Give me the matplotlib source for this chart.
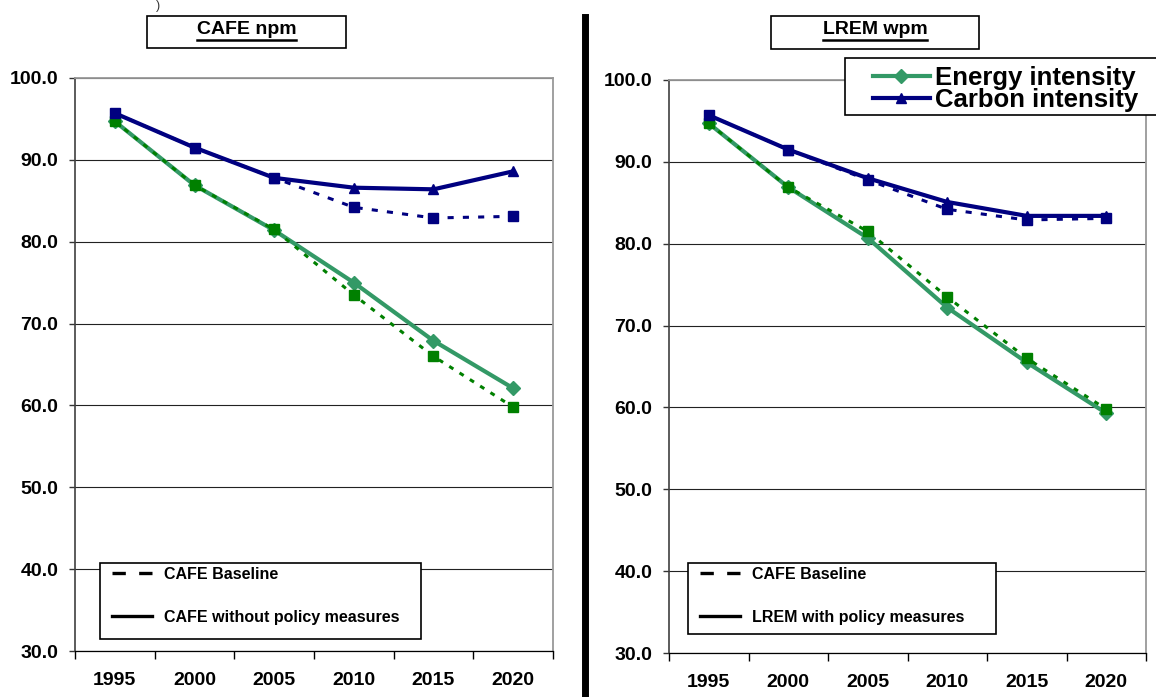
import matplotlib.pyplot as plt
from matplotlib import font_manager
from matplotlib.lines import Line2D
from matplotlib.patches import Rectangle

years = ['1995', '2000', '2005', '2010', '2015', '2020']

# CAFE baseline (same in both panels)
base_energy = [94.7, 86.9, 81.5, 73.5, 66.0, 59.8]
base_carbon = [95.7, 91.5, 87.8, 84.2, 82.9, 83.1]

# CAFE without policy measures
npm_energy = [94.7, 86.9, 81.4, 75.0, 67.9, 62.1]
npm_carbon = [95.7, 91.5, 87.8, 86.6, 86.4, 88.6]

# LREM with policy measures
wpm_energy = [94.7, 86.9, 80.7, 72.2, 65.5, 59.3]
wpm_carbon = [95.7, 91.5, 88.0, 85.1, 83.4, 83.4]

yticks = [30, 40, 50, 60, 70, 80, 90, 100]

GREEN = '#339966'
DKGREEN = '#008000'
NAVY = '#000080'

plt.rcParams['font.family'] = ['Liberation Sans', 'DejaVu Sans']
plt.rcParams['font.weight'] = 'bold'
names = {f.name for f in font_manager.fontManager.ttflist}
narrow = 'Liberation Sans Narrow' in names
tick_family = ['Liberation Sans Narrow'] if narrow else ['Liberation Sans']
tick_size = 16.5 if narrow else 14

W, H = 1156, 697
fig = plt.figure(figsize=(W / 100, H / 100), dpi=100)


def px(x, y):
    return x / W, 1 - y / H


def boxed(x0, y0, x1, y1):
    fig.add_artist(Rectangle(px(x0, y1), (x1 - x0) / W, (y1 - y0) / H,
                             transform=fig.transFigure, fc='white',
                             ec='black', lw=1.2))


def panel(rect, energy, carbon, title, title_box, leg_label, leg_box):
    ax = fig.add_axes(rect)
    x = list(range(len(years)))

    l_e, = ax.plot(x, energy, color=GREEN, lw=3, marker='D', ms=7.5, zorder=3,
                   label='Energy intensity')
    l_c, = ax.plot(x, carbon, color=NAVY, lw=3, marker='^', ms=7.5, zorder=3,
                   label='Carbon intensity')
    ax.plot(x, base_energy, color=DKGREEN, lw=2.2, ls=(0, (1.6, 2.4)),
            marker='s', ms=6.5, zorder=4)
    ax.plot(x, base_carbon, color=NAVY, lw=2.2, ls=(0, (2, 3)),
            marker='s', ms=6.5, zorder=4)

    ax.set_xlim(-0.5, len(years) - 0.5)
    ax.set_ylim(30, 100)
    ax.set_yticks(yticks)
    ax.set_yticklabels([f'{v:.1f}' for v in yticks], family=tick_family,
                       fontsize=tick_size, fontweight='bold')
    ax.tick_params(axis='y', direction='out', length=4, width=1, pad=8,
                   color='#333333')

    # tick marks between categories, labels at the centres
    ax.set_xticks([i - 0.5 for i in range(len(years) + 1)])
    ax.set_xticklabels([])
    ax.set_xticks(x, minor=True)
    ax.set_xticklabels(years, minor=True, family=tick_family,
                       fontsize=tick_size, fontweight='bold')
    ax.tick_params(axis='x', which='major', direction='out', length=6,
                   width=1, color='black')
    ax.tick_params(axis='x', which='minor', length=0, pad=15)

    ax.grid(axis='y', color='#222222', lw=0.8, zorder=0)
    ax.set_axisbelow(True)
    ax.spines['left'].set_color('#404040')
    ax.spines['left'].set_linewidth(1.2)
    ax.spines['bottom'].set_color('black')
    ax.spines['bottom'].set_linewidth(0.9)
    ax.spines['top'].set_color('#999999')
    ax.spines['top'].set_linewidth(1.3)
    ax.spines['right'].set_color('#999999')
    ax.spines['right'].set_linewidth(1.3)

    # scenario legend (line style only)
    bx0, by0, bx1, by1 = leg_box
    boxed(bx0, by0, bx1, by1)
    handles = [Line2D([], [], color='black', lw=2.4, ls=(0, (4, 4))),
               Line2D([], [], color='black', lw=2.4)]
    fig.legend(handles, ['CAFE Baseline', leg_label], loc='upper left',
               bbox_to_anchor=px(bx0 + 12, by0 + 4),
               prop={'size': 11.5, 'weight': 'bold'}, frameon=False,
               borderpad=0, labelspacing=1.75, handlelength=2.5,
               handletextpad=0.75, borderaxespad=0)

    # boxed, underlined panel title
    x0, y0, x1, y1 = title_box
    boxed(x0, y0, x1, y1)
    cx, cy = px((x0 + x1) / 2, 30)
    t = fig.text(cx, cy, title, ha='center', va='center', fontsize=14,
                 fontweight='bold')
    return ax, t, (l_e, l_c)


ax1, t1, _ = panel([75 / W, 1 - 651 / H, 478 / W, 573 / H],
                   npm_energy, npm_carbon, 'CAFE npm', (147, 16, 346, 48),
                   'CAFE without policy measures', (100, 563, 421, 639))
ax2, t2, series = panel([669 / W, 1 - 653 / H, 477 / W, 573 / H],
                        wpm_energy, wpm_carbon, 'LREM wpm', (771, 16, 979, 49),
                        'LREM with policy measures', (688, 563, 996, 634))

# indicator legend in the right panel, running off the right edge
boxed(845, 58, 1175, 115)
fig.legend(series, [s.get_label() for s in series], loc='upper left',
           bbox_to_anchor=px(873, 66), prop={'size': 18.5, 'weight': 'bold'},
           frameon=False, borderpad=0, labelspacing=-0.08, handlelength=2.2,
           handletextpad=0.2, borderaxespad=0, markerscale=0.9)

# separator between the two panels
fig.add_artist(Line2D([585 / W, 585 / W], [0, 1 - 17 / H], color='black',
                      lw=5, transform=fig.transFigure))
fig.text(*px(158, 0), ')', fontsize=9, fontweight='normal', ha='center',
         va='top', color='#333333')

# underline the titles
fig.canvas.draw()
r = fig.canvas.get_renderer()
for t in (t1, t2):
    bb = t.get_window_extent(r)
    yy = bb.y0 - 1
    fig.add_artist(Line2D([bb.x0 / W, bb.x1 / W], [yy / H, yy / H],
                          color='black', lw=1.8, transform=fig.transFigure))

fig.savefig('out.png', dpi=100)
